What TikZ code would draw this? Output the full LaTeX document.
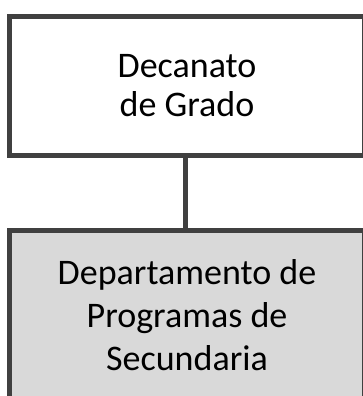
\documentclass[tikz,border=0pt]{standalone}
\usepackage{fontspec}
\setmainfont{Carlito}
\definecolor{edgegray}{HTML}{404040}
\definecolor{fillgray}{HTML}{D9D9D9}
\tikzset{
  orgbox/.style={draw=edgegray, line width=5pt, rectangle, inner sep=0pt, align=center},
  link/.style={draw=edgegray, line width=5pt}
}
\begin{document}
\begin{tikzpicture}[x=1pt,y=-1pt]
\clip (0,0) rectangle (363,396);
\fill[white] (0,0) rectangle (363,396);
\node[orgbox, fill=white, minimum width=355pt, minimum height=139pt,
      font=\fontsize{36}{39}\selectfont] (top) at (187,86) {Decanato\\de Grado};
\node[orgbox, fill=fillgray, minimum width=355pt, minimum height=169.5pt,
      font=\fontsize{36}{43}\selectfont] (bot) at (187,315.25) {Departamento de\\Programas de\\Secundaria};
\draw[link] ([xshift=-1.5pt]top.south) -- ([xshift=-1.5pt]bot.north);
\end{tikzpicture}
\end{document}
